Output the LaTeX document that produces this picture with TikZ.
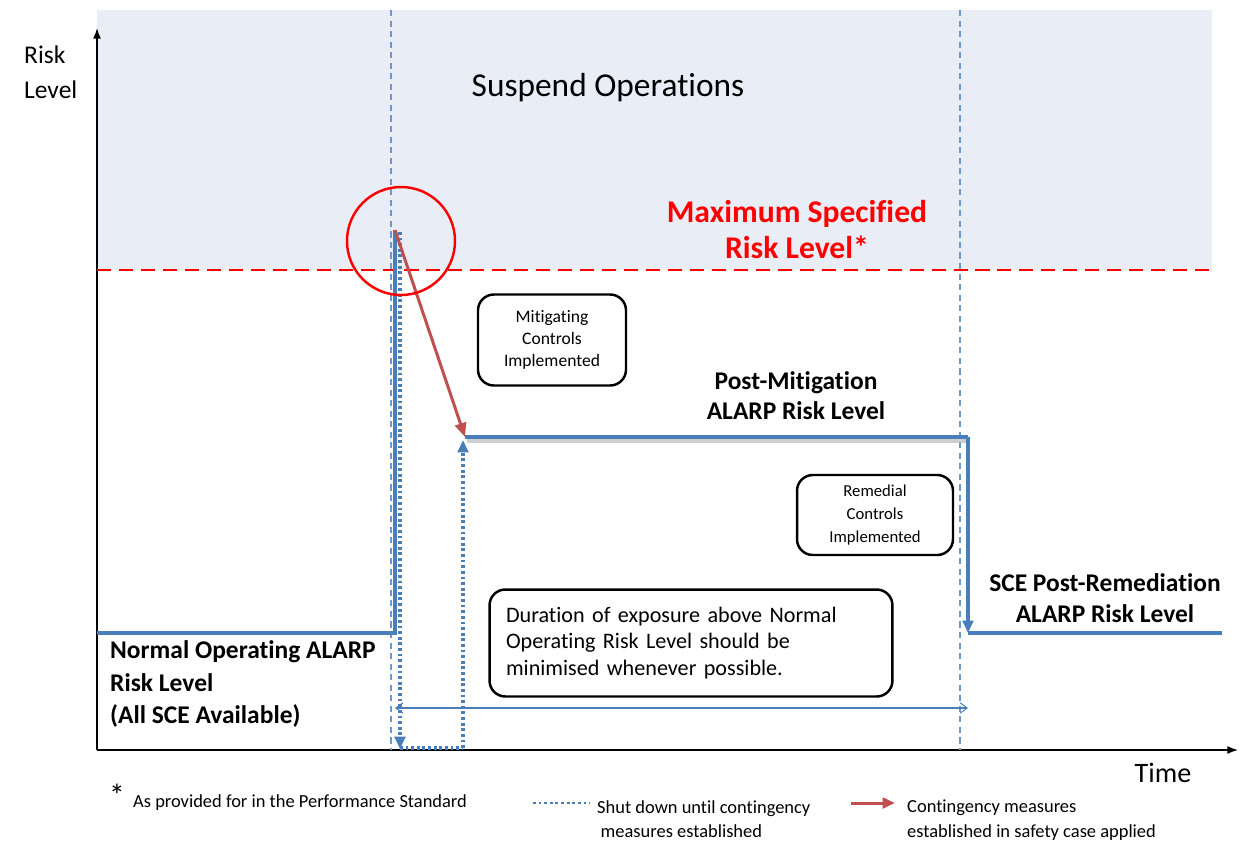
\documentclass[tikz,border=0pt]{standalone}
\usepackage{fontspec}
\setmainfont{Carlito}[Ligatures={NoCommon,NoContextual,NoRare},Contextuals=NoAlternate]
\usetikzlibrary{arrows.meta,positioning}

\definecolor{lineblue}{RGB}{74,126,187}
\definecolor{zoneblue}{RGB}{233,238,246}
\definecolor{arrowred}{RGB}{192,80,77}

\newcommand{\fs}[2]{\fontsize{#1}{#2}\selectfont}

\begin{document}
\begin{tikzpicture}[x=0.02cm,y=-0.02cm,
  level/.style={lineblue,line width=2.3pt},
  shutdown/.style={lineblue,line width=1.8pt,dash pattern=on 1.6pt off 1.6pt},
  marker/.style={lineblue!80,line width=0.6pt,dash pattern=on 3.5pt off 2.5pt},
  ctlbox/.style={draw,line width=1.4pt,rounded corners=9pt,align=center},
  lbl/.style={font=\bfseries\fs{14.5}{17},align=center},
  legend/.style={font=\fs{10.5}{14},align=left,anchor=west}]

  \useasboundingbox (0,0) rectangle (1242,840);

  % suspend zone
  \fill[zoneblue] (97,10) rectangle (1212,270);
  \node (suspend) at (608,88) {\fs{19}{22}Suspend Operations};

  % axes
  \coordinate (origin) at (97,750);
  \draw[-{Latex[length=6pt,width=4.5pt]},line width=0.8pt] (origin) -- (97,28);
  \draw[-{Latex[length=6pt,width=4.5pt]},line width=0.8pt] (origin) -- (1238,750);
  \node[anchor=west,align=left,font=\fs{14.5}{20}] (risk) at (18,72) {Risk\\Level};
  \node (time) at (1163,773) {\fs{16}{18}Time};

  % event markers
  \draw[marker] (391,10) -- (391,750);
  \draw[marker] (960,10) -- (960,750);

  % maximum level
  \draw[red,line width=1.6pt,dash pattern=on 8pt off 4.5pt] (97,270) -- (1212,270);
  \node[font=\bfseries\fs{18}{20.5},text=red,align=center] (maxlvl) at (797,230)
    {Maximum Specified\\Risk Level*};

  % risk levels
  \coordinate (normal) at (97,633);
  \coordinate (rise) at (395,633);
  \coordinate (peak) at (395,230);
  \coordinate (mitstart) at (465,437);
  \coordinate (mitend) at (968,437);
  \coordinate (remstart) at (968,633);
  \coordinate (remend) at (1222,633);

  \draw[gray!55,line width=2.5pt,opacity=0.7] (467,441) -- (968,441);
  \draw[level] (normal) -- (rise) -- (peak);
  \draw[level] (mitstart) -- (mitend);
  \draw[level,-{Triangle[length=7pt,width=6pt]}] (mitend) -- (remstart);
  \draw[level] (remstart) -- (remend);

  % shut down
  \draw[shutdown,-{Triangle[length=7pt,width=6pt]}] (400,232) -- (400,749);
  \draw[shutdown] (400,748) -- (463,748);
  \draw[shutdown,-{Triangle[length=7pt,width=6pt]}] (463,748) -- (463,440);

  % contingency measures
  \draw[arrowred,line width=1.7pt,-{Triangle[length=8pt,width=6.5pt]}] (peak) -- (mitstart);
  \draw[red,line width=1.4pt] (401,241) circle (54);

  % exposure span
  \draw[lineblue,line width=0.6pt,{Straight Barb[length=4pt,width=6pt]}-{Straight Barb[length=4pt,width=6pt]}]
    (395,708) -- (968,708);

  % labels
  \node[lbl] (postmit) at (796,396) {Post-Mitigation\\ALARP Risk Level};
  \node[lbl,font=\bfseries\fs{14.5}{17.6}] (postrem) at (1105,598) {SCE Post-Remediation\\ALARP Risk Level};
  \node[lbl,align=left,anchor=west,font=\bfseries\fs{14.5}{18.4}] (normlbl) at (104,684)
    {Normal Operating ALARP\\Risk Level\\(All SCE Available)};

  % boxes
  \node[ctlbox,minimum width=2.96cm,minimum height=1.82cm,font=\fs{10}{12.5}] (mitbox) at (552,340)
    {Mitigating\\Controls\\Implemented};
  \node[ctlbox,minimum width=3.12cm,minimum height=1.6cm,font=\fs{9.5}{13}] (rembox) at (875,515)
    {Remedial\\Controls\\Implemented};
  \node[ctlbox,minimum width=8.06cm,minimum height=2.14cm,align=left,font=\fs{12.6}{15.3},
    text width=7.4cm] (durbox) at (691,643)
    {Duration of exposure above Normal\\Operating Risk Level should be\\minimised whenever possible.};

  % legend
  \node (star) at (117,795) {\fs{18}{18}*};
  \node[legend] (stdnote) at (127,803) {As provided for in the Performance Standard};
  \coordinate (dotA) at (533,803);
  \coordinate (dotB) at (590,803);
  \draw[shutdown,line width=1.5pt] (dotA) -- (dotB);
  \node[legend,anchor=north west] (shutnote) at (591,794) {Shut down until contingency\\\hspace{2pt}measures established};
  \coordinate (redA) at (851,803);
  \coordinate (redB) at (895,803);
  \draw[arrowred,line width=1.7pt,-{Triangle[length=7pt,width=6pt]}] (redA) -- (redB);
  \node[legend,anchor=north west] (contnote) at (901,794) {Contingency measures\\established in safety case applied};
\end{tikzpicture}
\end{document}
